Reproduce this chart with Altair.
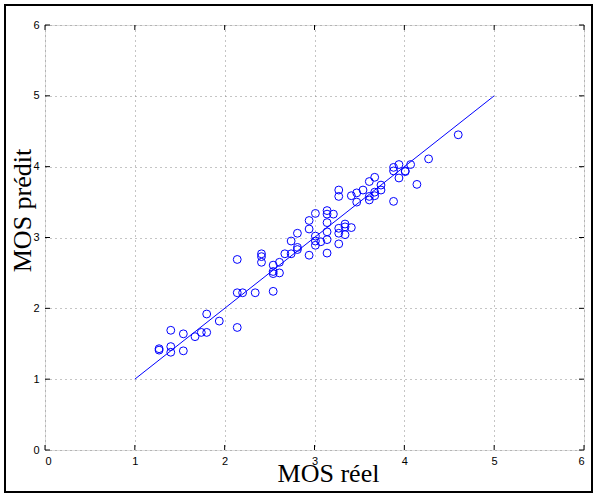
import altair as alt
import pandas as pd

# Data (MOS réel vs MOS prédit)
mos_reel = [
    1.27, 1.27,
    1.40, 1.40, 1.40,
    1.54, 1.54,
    1.67, 1.74, 1.80, 1.80, 1.94,
    2.14, 2.14, 2.14, 2.20, 2.34,
    2.41, 2.41, 2.41,
    2.54, 2.54, 2.54, 2.54,
    2.61, 2.61, 2.67, 2.74, 2.74,
    2.81, 2.81, 2.81,
    2.94, 2.94, 2.94,
    3.01, 3.01, 3.01, 3.01, 3.07,
    3.14, 3.14, 3.14, 3.14, 3.14, 3.14,
    3.21,
    3.27, 3.27, 3.27, 3.27, 3.27,
    3.34, 3.34, 3.34,
    3.41, 3.41, 3.47, 3.47, 3.54,
    3.61, 3.61, 3.61,
    3.67, 3.67, 3.67,
    3.74, 3.74,
    3.88, 3.88, 3.88,
    3.94, 3.94, 4.01, 4.01, 4.07, 4.14, 4.27, 4.60,
]
mos_predit = [
    1.43, 1.41,
    1.69, 1.46, 1.38,
    1.64, 1.40,
    1.60, 1.66, 1.66, 1.92, 1.82,
    2.69, 2.22, 1.73, 2.22, 2.22,
    2.77, 2.73, 2.65,
    2.24, 2.61, 2.52, 2.49,
    2.65, 2.50, 2.77, 2.77, 2.95,
    3.06, 2.86, 2.83,
    3.24, 3.12, 2.75,
    3.34, 3.02, 2.95, 2.89, 2.94,
    3.38, 3.33, 3.21, 3.08, 2.97, 2.78,
    3.33,
    3.67, 3.58, 3.13, 3.06, 2.91,
    3.19, 3.15, 3.04,
    3.14, 3.59, 3.63, 3.50, 3.67,
    3.79, 3.58, 3.53,
    3.85, 3.64, 3.59,
    3.74, 3.67,
    3.99, 3.94, 3.51,
    4.03, 3.84, 3.93, 3.94, 4.03, 3.75, 4.11, 4.45,
]
line_x = [1, 5]
line_y = [1, 5]
ticks = [0, 1, 2, 3, 4, 5, 6]

W, H = 539, 425
pts = pd.DataFrame({"x": mos_reel, "y": mos_predit})
ln = pd.DataFrame({"x": line_x, "y": line_y})
tk = pd.DataFrame({"t": ticks})
one = pd.DataFrame({"a": [0]})

xs = alt.Scale(domain=[0, 6], nice=False, zero=False)
ys = alt.Scale(domain=[0, 6], nice=False, zero=False)

xaxis = alt.Axis(values=ticks, format="d", grid=True, gridDash=[1, 4], gridColor="#8a8a8a",
                 gridWidth=1, ticks=False, domain=False, labelFont="Liberation Sans",
                 labelFontSize=11, labelColor="black", labelPadding=5,
                 title="MOS réel", titleFont="Liberation Serif", titleFontSize=26,
                 titleFontWeight="normal", titleColor="black", titleX=283, titleY=31,
                 titleBaseline="alphabetic")
yaxis = alt.Axis(values=ticks, format="d", grid=True, gridDash=[1, 4], gridColor="#8a8a8a",
                 gridWidth=1, ticks=False, domain=False, labelFont="Liberation Sans",
                 labelFontSize=11, labelColor="black", labelPadding=6,
                 title="MOS prédit", titleFont="Liberation Serif", titleFontSize=26,
                 titleFontWeight="normal", titleColor="black", titleX=-15, titleY=185,
                 titleAngle=270, titleBaseline="alphabetic")

points = alt.Chart(pts).mark_point(shape="circle", filled=False, color="#0000ff",
                                   size=62, strokeWidth=1, opacity=1).encode(
    x=alt.X("x:Q", scale=xs, axis=xaxis),
    y=alt.Y("y:Q", scale=ys, axis=yaxis),
)
line = alt.Chart(ln).mark_line(color="#0000ff", strokeWidth=1).encode(
    x=alt.X("x:Q", scale=xs), y=alt.Y("y:Q", scale=ys))

tick_top = alt.Chart(tk).mark_rule(color="black", strokeWidth=1).encode(
    x=alt.X("t:Q", scale=xs), y=alt.value(0), y2=alt.value(5))
tick_bot = alt.Chart(tk).mark_rule(color="black", strokeWidth=1).encode(
    x=alt.X("t:Q", scale=xs), y=alt.value(H - 5), y2=alt.value(H))
tick_left = alt.Chart(tk).mark_rule(color="black", strokeWidth=1).encode(
    y=alt.Y("t:Q", scale=ys), x=alt.value(0), x2=alt.value(5))
tick_right = alt.Chart(tk).mark_rule(color="black", strokeWidth=1).encode(
    y=alt.Y("t:Q", scale=ys), x=alt.value(W - 5), x2=alt.value(W))

border = alt.Chart(one).mark_rect(fill=None, fillOpacity=0, stroke="black", strokeWidth=2,
                                  clip=False).encode(
    x=alt.value(-40), x2=alt.value(547), y=alt.value(-20), y2=alt.value(467))

chart = alt.layer(line, points, tick_top, tick_bot, tick_left, tick_right, border).properties(
    width=W, height=H,
    autosize=alt.AutoSizeParams(type="none"),
    padding={"left": 45, "top": 25, "right": 13, "bottom": 45},
).configure_view(stroke="black", strokeWidth=1).configure(background="white")

chart.save("out.html", embed_options={"renderer": "svg", "actions": False})
